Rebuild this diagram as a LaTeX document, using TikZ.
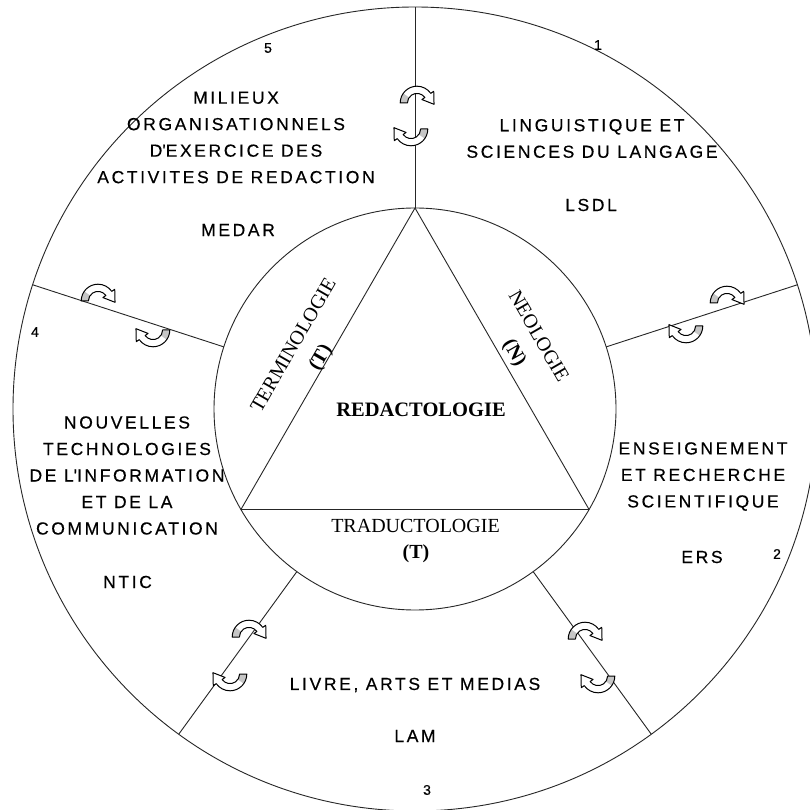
\documentclass[tikz,border=0pt]{standalone}
\usepackage{fontspec}
\setmainfont{Liberation Serif}
\newfontfamily\labfont[LetterSpace=15,FakeBold=0.4]{Liberation Sans}
\newfontfamily\numfont[FakeBold=0.4]{Liberation Sans}
\begin{document}
\begin{tikzpicture}[x=1pt,y=1pt,
  ring/.style={circle, draw=black!85, line width=0.9pt, inner sep=0pt, outer sep=0pt},
  line/.style={draw=black!85, line width=0.9pt},
  lab/.style={font=\labfont\fontsize{17.5}{26.5}\selectfont, align=center, inner sep=0pt},
  num/.style={font=\numfont\fontsize{14}{14}\selectfont, inner sep=0pt},
  ser/.style={font=\fontsize{20}{24}\selectfont, inner sep=0pt},
  serb/.style={font=\bfseries\fontsize{20}{24}\selectfont, inner sep=0pt},
  swirl/.pic={
    \begin{scope}[scale=1.2]
    \fill[white] (-14,0) arc[start angle=180, end angle=35, radius=14] -- (13.93,9.75) -- (14.2,-1.1) -- (4.10,2.87) -- (6.55,4.59) arc[start angle=35, end angle=180, radius=8] -- cycle;
    \fill[gray!45] (-14,0) arc[start angle=180, end angle=145, radius=14] -- (145:8) arc[start angle=145, end angle=180, radius=8] -- cycle;
    \draw[line width=1pt, line join=round] (-14,0) arc[start angle=180, end angle=35, radius=14] -- (13.93,9.75) -- (14.2,-1.1) -- (4.10,2.87) -- (6.55,4.59) arc[start angle=35, end angle=180, radius=8] -- cycle;
    \end{scope}
  }
]
\useasboundingbox (0,0) rectangle (810,809);
\clip (0,0) rectangle (810,809);
\fill[white] (0,0) rectangle (810,809);

\coordinate (C) at (415,400);
\node[ring, minimum size=804] (outer) at (C) {};
\node[ring, minimum size=402] (inner) at (C) {};

% triangle
\draw[line, line join=round] (inner.90) -- (inner.210) -- (inner.330) -- cycle;

% spokes
\draw[line] (inner.90) -- (outer.90);
\draw[line] (inner.18) -- (outer.18);
\draw[line] (inner.306) -- (outer.306);
\draw[line] (inner.234) -- (outer.234);
\draw[line] (inner.162) -- (outer.162);

% exchange arrows
\pic at (417,706) {swirl};
\pic[rotate=180] at (411,680) {swirl};
\pic at (727,506) {swirl};
\pic[rotate=180] at (686,483) {swirl};
\pic at (98,508) {swirl};
\pic[rotate=180] at (153,479) {swirl};
\pic at (249,172) {swirl};
\pic[rotate=180] at (230,135) {swirl};
\pic at (585,170) {swirl};
\pic[rotate=180] at (598,133) {swirl};

% sector numbers
\node[num] (n1) at (598,764) {1};
\node[num] (n2) at (777,255) {2};
\node[num] (n3) at (427,19) {3};
\node[num] (n4) at (35,477) {4};
\node[num] (n5) at (268,761) {5};

% sector labels
\node[lab] (s1) at (592,670.5) {LINGUISTIQUE ET\\SCIENCES DU LANGAGE};
\node[lab] (s1a) at (591,604) {LSDL};
\node[lab] (s2) at (703,332.5) {ENSEIGNEMENT\\ET RECHERCHE\\SCIENTIFIQUE};
\node[lab] (s2a) at (702,252) {ERS};
\node[lab] (s3) at (415,124) {LIVRE, ARTS ET MEDIAS};
\node[lab] (s3a) at (415,73) {LAM};
\node[lab] (s4) at (127,333.5) {NOUVELLES\\TECHNOLOGIES\\DE L\textquotesingle INFORMATION\\ET DE LA\\COMMUNICATION};
\node[lab] (s4a) at (127.5,227) {NTIC};
\node[lab] (s5) at (236,671.5) {MILIEUX\\ORGANISATIONNELS\\D\textquotesingle EXERCICE DES\\ACTIVITES DE REDACTION};
\node[lab] (s5a) at (238,579) {MEDAR};

% inner labels
\node[ser, rotate=60] (term) at (293,464) {TERMINOLOGIE};
\node[serb, rotate=60] (termT) at (321,451) {(T)};
\node[ser, rotate=-60] (neo) at (539,473) {NEOLOGIE};
\node[serb, rotate=-60] (neoN) at (514,456) {(N)};
\node[ser] (trad) at (415.5,283) {TRADUCTOLOGIE};
\node[serb] (tradT) at (416,255) {(T)};
\node[serb, font=\bfseries\fontsize{20.5}{24}\selectfont] (red) at (421,399) {REDACTOLOGIE};
\end{tikzpicture}
\end{document}
